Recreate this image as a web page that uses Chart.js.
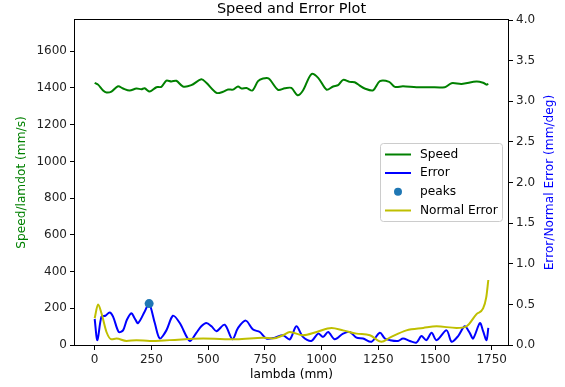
<!DOCTYPE html>
<html>
<head>
<meta charset="utf-8">
<script src="https://cdn.jsdelivr.net/npm/chart.js@4/dist/chart.umd.min.js"></script>
<style>
  html, body { margin: 0; padding: 0; background: #fff; }
  #wrap { position: relative; width: 565px; height: 387px; }
</style>
</head>
<body>
<div id="wrap"><canvas id="myChart" width="565" height="387"></canvas></div>
<script>
// values
var lambdaSpeed = [0,15,37,52,74,103,125,154,184,206,220,243,272,294,316,338,360,389,426,470,492,537,566,588,610,632,647,669,695,720,742,767,808,838,867,894,918,955,985,1022,1051,1073,1095,1124,1146,1168,1190,1227,1257,1298,1323,1359,1418,1477,1543,1573,1617,1683,1712,1727,1735]
var speed = [1428,1418,1386,1375,1380,1409,1397,1386,1397,1393,1398,1380,1404,1406,1440,1435,1439,1408,1415,1447,1428,1373,1379,1391,1391,1408,1397,1400,1386,1437,1451,1451,1390,1398,1400,1360,1386,1475,1455,1391,1408,1415,1444,1433,1431,1413,1397,1387,1437,1433,1406,1409,1404,1404,1404,1426,1422,1435,1428,1418,1422]

var lambdaErr = [0,12,30,47,66,81,106,125,142,162,176,191,220,240,265,287,316,345,375,419,448,470,492,515,537,573,607,632,666,698,728,757,794,830,860,889,918,955,985,1007,1029,1058,1095,1124,1154,1183,1220,1257,1279,1301,1337,1359,1389,1418,1440,1462,1485,1507,1551,1573,1602,1631,1653,1668,1698,1712,1727,1735]
var error = [0.32,0.06,0.35,0.36,0.40,0.35,0.16,0.18,0.31,0.39,0.33,0.27,0.41,0.51,0.27,0.08,0.18,0.36,0.27,0.05,0.15,0.23,0.27,0.23,0.17,0.25,0.07,0.21,0.30,0.19,0.16,0.08,0.09,0.12,0.07,0.23,0.10,0.05,0.14,0.10,0.16,0.07,0.14,0.16,0.09,0.08,0.04,0.15,0.08,0.06,0.05,0.08,0.05,0.03,0.11,0.06,0.15,0.06,0.18,0.04,0.11,0.23,0.15,0.08,0.27,0.17,0.06,0.21]

var lambdaPeaks = [240]
var peaks = [0.51]

var lambdaNorm = [0,15,30,52,74,96,140,184,243,331,478,625,742,786,830,860,918,978,1044,1095,1154,1213,1264,1301,1374,1448,1507,1595,1639,1683,1712,1726,1735]
var normErr = [0.33,0.50,0.39,0.16,0.07,0.08,0.05,0.06,0.05,0.06,0.08,0.07,0.09,0.08,0.12,0.16,0.12,0.16,0.21,0.18,0.14,0.12,0.04,0.09,0.18,0.21,0.23,0.21,0.23,0.38,0.45,0.59,0.80]

var xTicks = [0,250,500,750,1000,1250,1500,1750]
var speedTicks = [0,200,400,600,800,1000,1200,1400,1600]
var errTicks = [0,0.5,1,1.5,2,2.5,3,3.5,4]

function pts(xs, ys){
	var out = []
	for(var i=0;i<xs.length;i++){
		out.push({x: xs[i], y: ys[i]})
	}
	return out
}

var FONT = "'DejaVu Sans', sans-serif"
Chart.defaults.font.family = FONT
Chart.defaults.font.size = 12
Chart.defaults.color = '#222'

// spines, title, right axis label and the legend box inside the plot
var extras = {
	id: 'extras',
	afterDraw: function(chart){
		var ctx = chart.ctx
		var a = chart.chartArea
		ctx.save()
		ctx.strokeStyle = '#000'
		ctx.lineWidth = 1
		ctx.strokeRect(Math.round(a.left)-0.5, Math.round(a.top)-0.5, Math.round(a.right-a.left)+1, Math.round(a.bottom-a.top)+1)

		ctx.fillStyle = '#000'
		ctx.font = "14.5px " + FONT
		ctx.textAlign = 'center'
		ctx.textBaseline = 'middle'
		ctx.fillText('Speed and Error Plot', (a.left+a.right)/2, 9)

		// right axis label reads bottom to top, like the left one
		ctx.save()
		ctx.translate(550, (a.top+a.bottom)/2)
		ctx.rotate(-Math.PI/2)
		ctx.fillStyle = '#0000ff'
		ctx.font = "12.2px " + FONT
		ctx.fillText('Error/Normal Error (mm/deg)', 0, 0)
		ctx.restore()

		// legend
		var bx = 380.5, by = 143.5, bw = 122, bh = 78
		ctx.fillStyle = 'rgba(255,255,255,0.8)'
		ctx.strokeStyle = '#cccccc'
		ctx.beginPath()
		ctx.roundRect(bx, by, bw, bh, 3)
		ctx.fill()
		ctx.stroke()

		var rows = [154.5, 173, 191.8, 210.5]
		ctx.font = "12.2px " + FONT
		ctx.textAlign = 'left'
		chart.data.datasets.forEach(function(ds, i){
			var y = rows[i]
			if(ds.showLine === false){
				ctx.fillStyle = ds.backgroundColor
				ctx.beginPath()
				ctx.arc(398, y, 4, 0, Math.PI*2)
				ctx.fill()
			} else {
				ctx.strokeStyle = ds.borderColor
				ctx.lineWidth = 2
				ctx.beginPath()
				ctx.moveTo(385, y)
				ctx.lineTo(411, y)
				ctx.stroke()
			}
			ctx.fillStyle = '#000'
			ctx.fillText(ds.label, 420, y)
		})
		ctx.restore()
	}
}

var tickGrid = {
	display: true,
	drawOnChartArea: false,
	drawTicks: true,
	tickLength: 5,
	tickColor: '#000',
	tickWidth: 1
}

function plain(v){ return String(v) }

var chart = new Chart(document.getElementById('myChart').getContext('2d'), {
	type: 'line',
	data: {
		datasets: [
			{
				label: 'Speed',
				data: pts(lambdaSpeed, speed),
				borderColor: '#008000',
				backgroundColor: '#008000',
				borderWidth: 2,
				pointRadius: 0,
				tension: 0.3,
				yAxisID: 'y',
				order: 4
			},
			{
				label: 'Error',
				data: pts(lambdaErr, error),
				borderColor: '#0000ff',
				backgroundColor: '#0000ff',
				borderWidth: 2,
				pointRadius: 0,
				tension: 0.3,
				yAxisID: 'y1',
				order: 3
			},
			{
				label: 'peaks',
				data: pts(lambdaPeaks, peaks),
				showLine: false,
				borderColor: '#1f77b4',
				backgroundColor: '#1f77b4',
				pointRadius: 4.5,
				pointBorderWidth: 0,
				yAxisID: 'y1',
				order: 1
			},
			{
				label: 'Normal Error',
				data: pts(lambdaNorm, normErr),
				borderColor: '#bfbf00',
				backgroundColor: '#bfbf00',
				borderWidth: 2,
				pointRadius: 0,
				cubicInterpolationMode: 'monotone',
				yAxisID: 'y1',
				order: 2
			}
		]
	},
	options: {
		responsive: false,
		animation: false,
		layout: { padding: { top: 20, left: 0, right: 0, bottom: 0 } },
		plugins: {
			legend: { display: false },
			tooltip: { enabled: false },
			title: { display: false }
		},
		scales: {
			x: {
				type: 'linear',
				min: -86.75,
				max: 1821.75,
				afterFit: function(s){ s.height = 42 },
				afterBuildTicks: function(s){ s.ticks = xTicks.map(function(v){ return {value: v} }) },
				grid: tickGrid,
				border: { display: false },
				ticks: { padding: 3, maxRotation: 0, autoSkip: false, color: '#222', callback: plain },
				title: { display: true, text: 'lambda (mm)', color: '#000', font: { size: 12.2 }, padding: { top: 0, bottom: 4.6 } }
			},
			y: {
				position: 'left',
				min: 0,
				max: 1770,
				afterFit: function(s){ s.width = 75 },
				afterBuildTicks: function(s){ s.ticks = speedTicks.map(function(v){ return {value: v} }) },
				grid: tickGrid,
				border: { display: false },
				ticks: { padding: 3, autoSkip: false, color: '#222', callback: plain },
				title: { display: true, text: 'Speed/lamdot (mm/s)', color: '#008000', font: { size: 12.2 }, padding: { top: 14.6, bottom: 0 } }
			},
			y1: {
				position: 'right',
				min: 0,
				max: 4,
				afterFit: function(s){ s.width = 57 },
				afterBuildTicks: function(s){ s.ticks = errTicks.map(function(v){ return {value: v} }) },
				grid: tickGrid,
				border: { display: false },
				ticks: { padding: 3, autoSkip: false, color: '#222', callback: function(v){ return Number(v).toFixed(1) } },
				title: { display: false }
			}
		}
	},
	plugins: [extras]
})
</script>
</body>
</html>
